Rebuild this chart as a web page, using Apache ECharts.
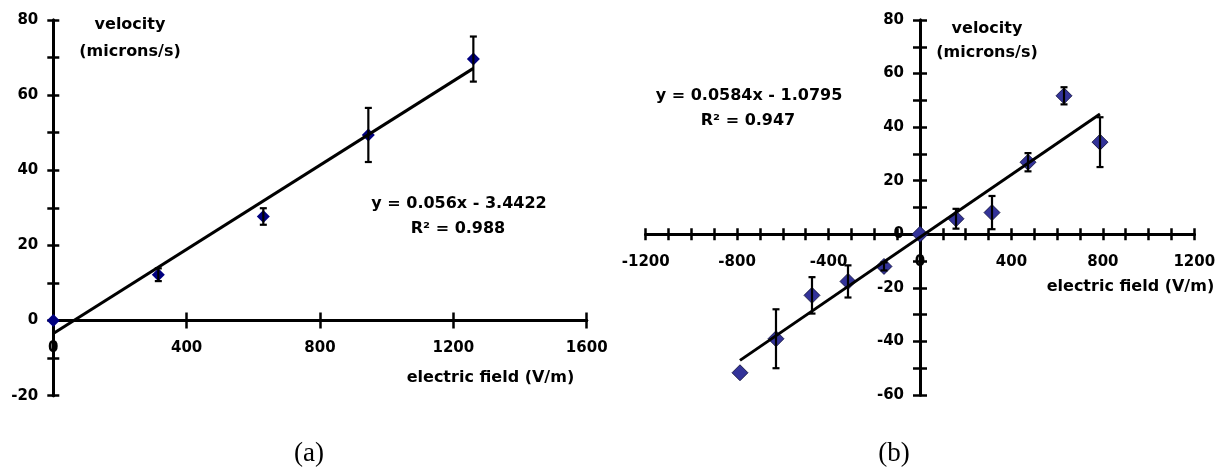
<!DOCTYPE html>
<html>
<head>
<meta charset="utf-8">
<script src="https://cdn.jsdelivr.net/npm/echarts@6/dist/echarts.min.js"></script>
<style>html,body{margin:0;padding:0;background:#fff;}#c{width:1220px;height:469px;}</style>
</head>
<body>
<div id="c"></div>
<script>
// ---- data (a) ----
const fieldA = [0, 315, 630, 945, 1260];
const velA   = [0, 12.2, 27.7, 49.4, 69.6];
const errA   = [0, 1.7, 2.2, 7.2, 6.0];
const fitA   = [[0, -3.44], [1260, 67.12]];
const eqA    = ['y = 0.056x - 3.4422', 'R² = 0.988'];
const xTicksA = [0, 400, 800, 1200, 1600];
const yTicksA = [-20, 0, 20, 40, 60, 80];

// ---- data (b) ----
const fieldB = [-787.5, -630, -472.5, -315, -157.5, 0, 157.5, 315, 472.5, 630, 787.5];
const velB   = [-51.7, -39.0, -22.8, -17.6, -12.0, 0, 5.8, 8.1, 26.9, 51.7, 34.4];
const errB   = [0, 11.0, 6.8, 6.0, 1.5, 0, 3.7, 6.2, 3.4, 3.2, 9.3];
const fitB   = [[-787.5, -47.07], [787.5, 44.91]];
const eqB    = ['y = 0.0584x - 1.0795', 'R² = 0.947'];
const xTicksB = [-1200, -800, -400, 0, 400, 800, 1200];
const yTicksB = [-60, -40, -20, 0, 20, 40, 60, 80];

const yName = ['velocity', '(microns/s)'];
const xName = 'electric field (V/m)';
const panelLabels = ['(a)', '(b)'];

const FONT = 'DejaVu Sans';
const lbl = {fontFamily: FONT, fontWeight: 'bold', fontSize: 15, color: '#000'};
const first = a => a[0], last = a => a[a.length - 1];

function pts(xs, ys) { return xs.map((x, i) => [x, ys[i]]); }
function errs(xs, ys, es) {
  const out = [];
  xs.forEach((x, i) => { if (es[i] > 0) out.push([x, ys[i] - es[i], ys[i] + es[i]]); });
  return out;
}
function errRender(params, api) {
  const x = api.value(0), lo = api.value(1), hi = api.value(2);
  const a = api.coord([x, hi]), b = api.coord([x, lo]);
  const w = 3.5;
  const st = {stroke: '#000', lineWidth: 2.2};
  return {type: 'group', children: [
    {type: 'line', shape: {x1: a[0], y1: a[1], x2: b[0], y2: b[1]}, style: st},
    {type: 'line', shape: {x1: a[0] - w, y1: a[1], x2: a[0] + w, y2: a[1]}, style: st},
    {type: 'line', shape: {x1: b[0] - w, y1: b[1], x2: b[0] + w, y2: b[1]}, style: st}
  ]};
}
// line + ticks axis (labels hidden)
function lineAxis(dim, grid, min, max, interval, inside, tickLen) {
  return {
    type: 'value', gridIndex: grid, min, max, interval, position: dim === 'x' ? 'bottom' : 'left',
    axisLine: {show: true, onZero: true, lineStyle: {color: '#000', width: 3}},
    axisTick: {show: true, inside, length: tickLen, lineStyle: {color: '#000', width: 2.5}},
    axisLabel: {show: false},
    splitLine: {show: false}
  };
}
// label-only axis
function labelAxis(dim, grid, min, max, interval, labelStep, margin) {
  return {
    type: 'value', gridIndex: grid, min, max, interval, position: dim === 'x' ? 'bottom' : 'left',
    axisLine: {show: false, onZero: false}, axisTick: {show: false}, splitLine: {show: false},
    axisLabel: Object.assign({show: true, margin,
      formatter: v => (Math.round(v) % labelStep === 0 ? String(v) : '')}, lbl)
  };
}
function hiddenAxis(grid, min, max) {
  return {type: 'value', gridIndex: grid, min, max, show: false, splitLine: {show: false}};
}
function txt(x, y, s, align, size, family, weight) {
  return {type: 'text', x, y, z: 10, style: {text: s, align: align || 'center', verticalAlign: 'middle',
    fontFamily: family || FONT, fontWeight: weight || 'bold', fontSize: size || 16, fill: '#000'}};
}

const chart = echarts.init(document.getElementById('c'), null, {renderer: 'canvas'});
const G = {outerBoundsMode: 'none', containLabel: false};
const option = {
  animation: false,
  backgroundColor: '#fff',
  grid: [
    Object.assign({left: 53.3, top: 20, width: 533.4, height: 375.7}, G),   // 0: plot (a)
    Object.assign({left: 645.7, top: 20, width: 548.6, height: 375}, G),    // 1: plot (b)
    Object.assign({left: 53.3, top: 20, width: 533.4, height: 300.6}, G),   // 2: x labels (a)
    Object.assign({left: 645.7, top: 20, width: 548.6, height: 214.3}, G),  // 3: x labels (b)
    Object.assign({left: 920, top: 20, width: 274.3, height: 375}, G)       // 4: y labels (b)
  ],
  xAxis: [
    lineAxis('x', 0, first(xTicksA), last(xTicksA), 400, false, 8),
    lineAxis('x', 0, first(xTicksA), last(xTicksA), 400, true, 8),
    lineAxis('x', 1, first(xTicksB), last(xTicksB), 100, false, 6),
    lineAxis('x', 1, first(xTicksB), last(xTicksB), 100, true, 6),
    labelAxis('x', 2, first(xTicksA), last(xTicksA), 400, 400, 20),
    labelAxis('x', 3, first(xTicksB), last(xTicksB), 400, 400, 20),
    hiddenAxis(4, 0, last(xTicksB))
  ],
  yAxis: [
    lineAxis('y', 0, first(yTicksA), last(yTicksA), 10, false, 6),
    lineAxis('y', 0, first(yTicksA), last(yTicksA), 10, true, 6),
    lineAxis('y', 1, first(yTicksB), last(yTicksB), 10, false, 7),
    lineAxis('y', 1, first(yTicksB), last(yTicksB), 10, true, 7),
    hiddenAxis(2, 0, last(yTicksA)),
    hiddenAxis(3, 0, last(yTicksB)),
    labelAxis('y', 4, first(yTicksB), last(yTicksB), 20, 20, 16),
    labelAxis('y', 0, first(yTicksA), last(yTicksA), 20, 20, 15)
  ],
  series: [
    {type: 'scatter', xAxisIndex: 0, yAxisIndex: 0, data: pts(fieldA, velA), symbol: 'diamond',
     symbolSize: 13, itemStyle: {color: '#000080', opacity: 1}, z: 2},
    {type: 'custom', xAxisIndex: 0, yAxisIndex: 0, data: errs(fieldA, velA, errA), renderItem: errRender,
     encode: {x: 0, y: [1, 2]}, z: 3},
    {type: 'line', xAxisIndex: 0, yAxisIndex: 0, data: fitA, showSymbol: false, symbol: 'none',
     lineStyle: {color: '#000', width: 3}, z: 4},
    {type: 'scatter', xAxisIndex: 2, yAxisIndex: 2, data: pts(fieldB, velB), symbol: 'diamond',
     symbolSize: 16, itemStyle: {color: '#333399', borderColor: '#0a0a33', borderWidth: 0.8, opacity: 1}, z: 2},
    {type: 'custom', xAxisIndex: 2, yAxisIndex: 2, data: errs(fieldB, velB, errB), renderItem: errRender,
     encode: {x: 0, y: [1, 2]}, z: 3},
    {type: 'line', xAxisIndex: 2, yAxisIndex: 2, data: fitB, showSymbol: false, symbol: 'none',
     lineStyle: {color: '#000', width: 3}, z: 4}
  ],
  graphic: [
    txt(130, 25, yName[0]), txt(130, 52, yName[1]),
    txt(987, 29, yName[0]), txt(987, 53, yName[1]),
    txt(459, 204, eqA[0]), txt(458, 229, eqA[1]),
    txt(749, 96, eqB[0]), txt(748, 121, eqB[1]),
    txt(406.7, 378, xName, 'left'), txt(1046.7, 287, xName, 'left'),
    txt(309, 454, panelLabels[0], 'center', 27, 'Liberation Serif', 'normal'),
    txt(894, 454, panelLabels[1], 'center', 27, 'Liberation Serif', 'normal')
  ]
};
chart.setOption(option);
</script>
</body>
</html>
